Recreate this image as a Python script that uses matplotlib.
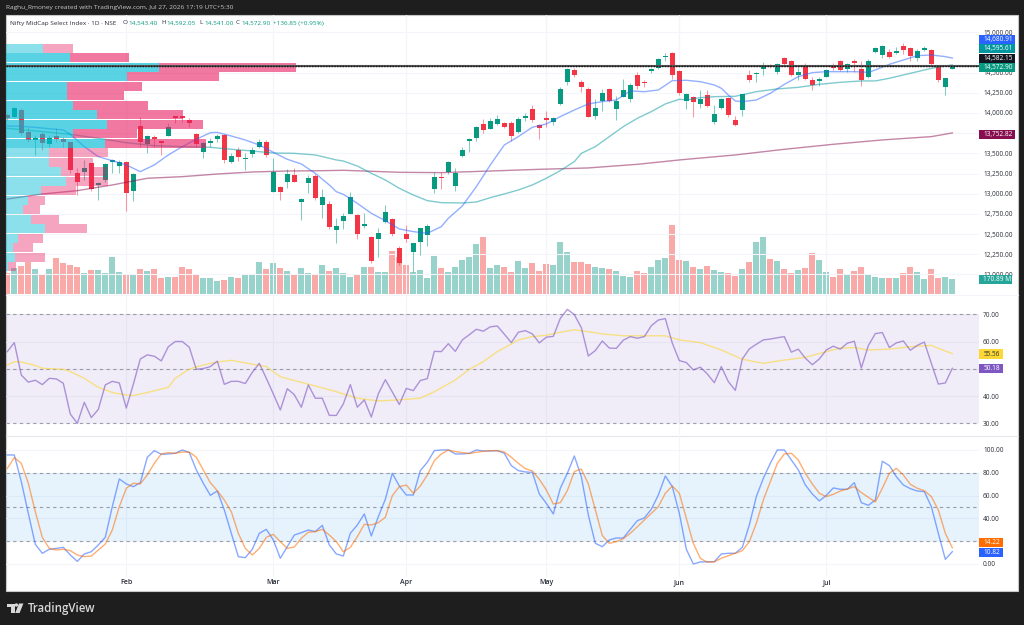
"""
Nifty MidCap Select daily chart (TradingView layout): candles, 20/50/200 MAs,
volume, visible-range volume profile, RSI and stochastic panes.
"""

import numpy as np
import matplotlib
matplotlib.use("Agg")
import matplotlib.pyplot as plt
from matplotlib.patches import Rectangle, Polygon, Circle

# ---------------------------------------------------------------------------
# Data
# ---------------------------------------------------------------------------
opens = [13975, 13955, 14037, 13760, 13665, 13740, 13616, 13715, 13674, 13636, 13257, 13273,
         13376, 13104, 13170, 13397, 13347, 13397, 13029, 13843, 13616, 13707, 13645, 13719,
         13955, 13963, 13913, 13740, 13521, 13632, 13674, 13727, 13393, 13546, 13426, 13488,
         13583, 13636, 13025, 13083, 13141, 13236, 12893, 13129, 13224, 12864, 12868, 12550,
         12666, 12749, 12736, 12604, 12468, 12439, 12650, 12687, 12327, 12497, 12278, 12402,
         12489, 13054, 13207, 13265, 13100, 13471, 13657, 13690, 13864, 13806, 13860, 13880,
         13872, 13765, 13942, 14046, 13851, 13934, 13889, 14116, 14384, 14533, 14384, 14293,
         13963, 14145, 14297, 14054, 14202, 14178, 14471, 14384, 14520, 14554, 14690, 14748,
         14525, 14149, 14202, 14112, 14219, 13884, 14058, 14190, 13909, 14041, 14467, 14479,
         14549, 14599, 14512, 14682, 14649, 14471, 14574, 14405, 14397, 14450, 14591, 14644,
         14545, 14632, 14541, 14442, 14756, 14715, 14760, 14739, 14830, 14810, 14686, 14776,
         14785, 14574, 14318, 14543.40]
highs = [13996, 14078, 14058, 13831, 13727, 13769, 13727, 13810, 13707, 13645, 13314, 13418,
         13380, 13149, 13376, 13426, 13418, 13409, 13252, 13955, 13727, 13727, 13653, 13872,
         13963, 13975, 13934, 13756, 13645, 13686, 13736, 13736, 13500, 13575, 13500, 13583,
         13674, 13665, 13438, 13095, 13302, 13314, 12943, 13232, 13244, 13054, 12910, 12695,
         12757, 13026, 12745, 12757, 12476, 12571, 12860, 12695, 12352, 12612, 12385, 12579,
         12621, 13273, 13273, 13405, 13315, 13583, 13686, 13839, 13926, 13934, 13975, 13889,
         13905, 13946, 14004, 14099, 13864, 14025, 13946, 14318, 14558, 14558, 14409, 14318,
         14170, 14293, 14310, 14211, 14417, 14368, 14512, 14405, 14558, 14682, 14748, 14756,
         14533, 14252, 14215, 14285, 14285, 14099, 14182, 14198, 13967, 14240, 14533, 14512,
         14628, 14607, 14620, 14694, 14657, 14574, 14620, 14442, 14446, 14545, 14615, 14657,
         14615, 14665, 14644, 14673, 14822, 14843, 14789, 14822, 14863, 14822, 14793, 14826,
         14789, 14586, 14430, 14592.05]
lows = [13913, 13934, 13727, 13645, 13480, 13542, 13583, 13645, 13583, 13252, 12984, 13170,
        13038, 12922, 13149, 13261, 13252, 12790, 12910, 13583, 13500, 13583, 13480, 13715,
        13872, 13893, 13822, 13583, 13438, 13583, 13645, 13385, 13376, 13409, 13294, 13451,
        13562, 13459, 13017, 12922, 13067, 13141, 12674, 13013, 12922, 12695, 12559, 12393,
        12563, 12745, 12435, 12571, 12138, 12220, 12641, 12480, 12117, 12398, 12034, 12241,
        12352, 13013, 13063, 13240, 13034, 13451, 13521, 13657, 13748, 13802, 13851, 13818,
        13653, 13756, 13905, 13893, 13678, 13823, 13856, 14103, 14351, 14450, 14264, 13946,
        13922, 14025, 14141, 13913, 14194, 14141, 14297, 14318, 14492, 14541, 14649, 14421,
        14223, 14050, 13955, 14066, 14079, 13868, 14050, 13950, 13835, 13967, 14388, 14388,
        14471, 14553, 14483, 14595, 14459, 14405, 14413, 14289, 14339, 14446, 14533, 14525,
        14512, 14512, 14330, 14438, 14748, 14677, 14677, 14731, 14727, 14648, 14644, 14764,
        14595, 14388, 14227, 14541.00]
closes = [13934, 14058, 13748, 13665, 13686, 13632, 13694, 13682, 13645, 13294, 13141, 13314,
          13054, 13129, 13368, 13414, 13389, 13005, 13244, 13636, 13715, 13682, 13632, 13822,
          13942, 13938, 13880, 13616, 13624, 13649, 13719, 13418, 13463, 13459, 13442, 13546,
          13645, 13475, 13273, 13017, 13248, 13149, 12930, 13195, 12943, 12955, 12592, 12600,
          12724, 12964, 12501, 12621, 12171, 12517, 12778, 12501, 12138, 12443, 12385, 12571,
          12604, 13207, 13191, 13393, 13261, 13542, 13674, 13827, 13790, 13905, 13926, 13831,
          13715, 13922, 13963, 13913, 13814, 13913, 13938, 14302, 14541, 14475, 14318, 13955,
          14062, 14252, 14149, 14153, 14285, 14351, 14339, 14368, 14541, 14665, 14706, 14467,
          14244, 14231, 14136, 14174, 14091, 13984, 14169, 13975, 13851, 14231, 14413, 14496,
          14570, 14574, 14611, 14611, 14471, 14508, 14421, 14351, 14421, 14529, 14553, 14533,
          14603, 14624, 14409, 14644, 14810, 14830, 14698, 14764, 14785, 14702, 14772, 14805,
          14611, 14413, 14436, 14572.90]

# volume in millions
volume = [247, 304, 323, 365, 293, 217, 293, 414, 357, 331, 315, 239, 277, 277, 247, 426, 251,
          217, 217, 293, 266, 293, 186, 201, 194, 312, 285, 232, 186, 182, 148, 163, 194, 186,
          232, 232, 365, 285, 361, 300, 262, 217, 296, 247, 232, 331, 270, 304, 243, 201, 220,
          312, 308, 251, 258, 490, 429, 334, 258, 277, 182, 437, 296, 258, 315, 391, 429, 574,
          650, 296, 334, 308, 255, 380, 304, 353, 266, 346, 334, 597, 479, 369, 369, 346, 315,
          300, 289, 262, 213, 201, 270, 247, 308, 391, 414, 790, 391, 380, 308, 289, 323, 281,
          258, 239, 213, 289, 365, 600, 657, 403, 380, 289, 239, 281, 300, 471, 391, 258, 194,
          289, 232, 262, 308, 224, 201, 182, 186, 186, 239, 308, 258, 175, 289, 182, 194, 170.89]

ma_fast_idx = [0, 2, 5, 8, 9, 11, 13, 15, 17, 19, 21, 23, 25, 27, 29, 30, 32, 34, 36, 38, 40, 42, 44,
               46, 47, 48, 50, 52, 54, 56, 58, 60, 62, 63, 65, 67, 69, 71, 73, 75, 77, 79, 81, 83,
               85, 87, 89, 91, 93, 95, 97, 99, 101, 102, 103, 104, 105, 107, 109, 111, 113, 115,
               117, 119, 121, 123, 124, 126, 128, 130, 132, 134, 135]
ma_fast = [13839, 13835, 13814, 13789, 13736, 13583, 13459, 13409, 13356, 13273, 13356, 13480,
           13583, 13674, 13756, 13760, 13715, 13665, 13603, 13513, 13426, 13368, 13252, 13108,
           13025, 12992, 12881, 12757, 12666, 12563, 12530, 12509, 12592, 12695, 12848, 13087,
           13356, 13604, 13707, 13823, 13864, 13955, 14037, 14112, 14141, 14161, 14273, 14264,
           14285, 14401, 14405, 14388, 14347, 14306, 14223, 14149, 14141, 14161, 14244, 14355,
           14450, 14500, 14512, 14512, 14512, 14504, 14533, 14603, 14657, 14710, 14719, 14698,
           14680.91]
ma_mid_idx = [0, 5, 9, 13, 17, 21, 25, 29, 32, 35, 38, 41, 44, 47, 48, 50, 52, 54, 56, 58, 60, 62,
              65, 67, 69, 71, 73, 75, 77, 79, 81, 82, 84, 86, 88, 90, 92, 94, 96, 97, 99, 101, 104,
              107, 110, 113, 116, 119, 122, 124, 126, 128, 130, 132, 134, 135]
ma_mid = [13810, 13769, 13736, 13686, 13632, 13595, 13583, 13575, 13550, 13529, 13504, 13500,
          13480, 13418, 13405, 13343, 13253, 13170, 13067, 12984, 12914, 12889, 12885, 12897,
          12951, 12997, 13046, 13108, 13191, 13286, 13397, 13500, 13583, 13707, 13831, 13934,
          14017, 14112, 14170, 14161, 14190, 14202, 14207, 14264, 14298, 14318, 14355, 14380,
          14397, 14397, 14430, 14471, 14512, 14553, 14582, 14595.61]
ma_long_idx = [0, 5, 10, 15, 20, 25, 30, 35, 40, 45, 48, 56, 62, 69, 76, 83, 90, 96, 97, 104, 111,
               118, 125, 132, 135]
ma_long = [12934, 12996, 13038, 13108, 13191, 13211, 13244, 13269, 13281, 13285, 13290, 13265,
           13261, 13281, 13302, 13319, 13364, 13418, 13426, 13480, 13550, 13612, 13666, 13707,
           13752.82]

# volume profile, 24 rows from the top of the visible range down
profile_up = [37.3, 64, 153.3, 121.3, 61.3, 61.3, 67.3, 91, 101.3, 67.3, 99, 43,
              42.7, 55.3, 59.7, 34.7, 22.3, 16.7, 25, 39.3, 12.3, 6.7, 9, 1.7]
profile_down = [29.3, 59.3, 136.7, 92, 75, 57, 75, 86.3, 96, 64, 101, 59.3,
                44, 46, 42, 35.3, 16.3, 17.3, 28, 42, 25, 20, 29.7, 8]
value_area_rows = (1, 10)
poc_price = 14582.15

rsi = [56.3, 59.6, 47.7, 45.1, 45.8, 44.2, 46.5, 46.3, 44.7, 33.4, 30.0, 37.7, 32.1, 35.1, 44.1,
       45.4, 44.8, 35.6, 44.3, 53.6, 55.1, 54.6, 52.9, 58.1, 60, 60, 57.9, 49.8, 50.1, 50.8, 52.8,
       44.3, 45.4, 45.4, 44.6, 48.7, 52, 46.5, 40.8, 34.9, 42.7, 40.5, 35.9, 44.1, 39.2, 39.2,
       32.9, 32.9, 37.1, 44.2, 35.9, 38.6, 32.3, 40.8, 46, 41.5, 36.9, 42.8, 42, 45.7, 46.4, 56.4,
       56.3, 59.2, 56.4, 60.6, 62.5, 64.5, 63.8, 65.4, 65.7, 62.7, 59.6, 63.4, 64, 62.8, 59.5,
       61.6, 61.9, 68.5, 71.8, 69.9, 65.1, 54.7, 56.7, 60.2, 57.6, 57.5, 60.5, 61.8, 61.2, 61.8,
       65.8, 67.9, 68.4, 59.4, 53, 52.3, 49.6, 50.6, 48.1, 44.9, 50.8, 45.3, 42.1, 53.6, 57.3, 59,
       60.6, 60.9, 61.4, 61.8, 56.1, 57.2, 53.9, 51.5, 53.6, 56.9, 58.3, 57.2, 59.4, 60.1, 50.3,
       58.5, 62.9, 63.3, 57.8, 59.5, 60.2, 56.8, 58.6, 59.8, 52, 44.4, 44.8, 50.18]
rsi_ma_idx = [0, 1, 2, 4, 5, 8, 9, 11, 13, 15, 17, 18, 20, 23, 24, 26, 28, 30, 32, 35, 37, 39, 41,
              44, 47, 50, 53, 56, 59, 61, 64, 66, 68, 70, 72, 73, 75, 77, 79, 81, 83, 85, 88, 91,
              94, 96, 99, 102, 105, 108, 111, 114, 117, 119, 121, 123, 126, 129, 132, 133, 135]
rsi_ma = [51.4, 52.6, 52.5, 51.2, 50.2, 49.8, 49, 46.5, 43.2, 41.3, 40.4, 40.2, 41.3, 43.2, 46.5,
          49.9, 51.4, 52.5, 53.1, 51.7, 50.8, 47.1, 45.7, 43.7, 41.6, 39.2, 38.2, 38.6, 39.2, 41.6,
          45.9, 49.8, 52.6, 56.3, 59.1, 60.6, 61.8, 62.3, 63.4, 64.3, 63.6, 62.8, 62.1, 62.1, 62.1,
          60.6, 59.6, 56.9, 53.5, 52, 53.2, 54.2, 56.3, 57.6, 57.8, 56.9, 57.2, 58.1, 58.6, 57.5,
          55.56]

stoch_k = [95.6, 95.6, 72.2, 44.4, 17.3, 9.4, 12.9, 13.7, 14.6, 7.9, 2.3, 8.8, 10.8, 16.7, 23.4,
           50.3, 74.6, 70.2, 67.8, 71.3, 93.6, 99.4, 96.2, 96.5, 97.1, 100, 97.7, 82.5, 70.8, 60.2,
           64, 47.4, 26.9, 6.4, 5.6, 12.9, 26.9, 30.4, 21.1, 5, 15.2, 25.4, 27.5, 29.8, 28.4, 33.9,
           16.7, 8.8, 7, 26.9, 34.2, 43.9, 24.6, 41.5, 56.7, 79.5, 68.4, 60.5, 60.5, 81.9, 89.2,
           99.4, 100, 100, 96.5, 96.5, 97.1, 100, 99.1, 99.1, 99.4, 97.1, 86.3, 81.9, 80.7, 80.4,
           61.4, 53.2, 43.9, 66.4, 79.5, 94.7, 76.6, 43, 18.1, 15.2, 21.1, 22.8, 22.8, 30.4, 38,
           40.4, 48, 60.5, 77.2, 67.8, 44.4, 12.9, 0, 1.8, 2, 2, 8.8, 9.4, 9.4, 14.6, 34.2, 59.1,
           75.1, 88.3, 100, 100, 91.2, 82.5, 69.3, 61.4, 55.3, 60.2, 66.7, 65.5, 65.5, 71.3, 53.8,
           51.5, 56.1, 90.1, 86.3, 76.6, 69.3, 66.1, 64, 63.5, 50.3, 26.9, 4.1, 10.82]
stoch_d = [83.9, 93.3, 88.3, 70.8, 45.9, 23.4, 13.7, 12.3, 12.9, 11.7, 7.9, 6.4, 7, 12.3, 17.5,
           29.8, 50.3, 66.4, 70.8, 70.2, 78.1, 88.3, 96.5, 97.7, 97.1, 98.2, 98.2, 93.6, 82.5, 71.3,
           64.3, 56.1, 45.9, 26.9, 13.7, 7.9, 13.7, 23.4, 26, 19.6, 13.7, 14.9, 22.5, 27.8, 28.4,
           30.4, 25.4, 19.6, 10.8, 14.6, 24, 34.8, 34.2, 36.3, 40.9, 59.9, 67.8, 69.3, 62, 68.4,
           78.1, 90.6, 96.5, 100, 98.5, 97.7, 96.8, 98, 98.8, 99.4, 99.4, 98.2, 93.6, 88.3, 83.6,
           81.6, 74.3, 64.9, 52.6, 53.8, 64.3, 81, 83.3, 70.2, 47.4, 24.9, 18.1, 19.6, 22.2, 26.9,
           32.7, 38.6, 44.4, 50.3, 62, 68.4, 62, 40.1, 18.1, 5, 1.5, 2, 5, 7.3, 9.4, 11.7, 19.6,
           35.7, 56.1, 72.2, 88.3, 96.5, 97.1, 91.2, 79.5, 70.2, 62, 59.1, 61.1, 64, 65.8, 67.8,
           62.6, 58.5, 54.4, 66.4, 79.5, 83.9, 78.1, 69.9, 66.4, 64.3, 59.1, 47.4, 26.9, 14.22]

month_idx = [17, 38, 57, 77, 96, 117]
month_labels = ["Feb", "Mar", "Apr", "May", "Jun", "Jul"]
price_ticks = [12000, 12250, 12500, 12750, 13000, 13250, 13500, 13750, 14000, 14250, 14500, 15000]
rsi_ticks = [30, 40, 50, 60, 70]
stoch_ticks = [0, 20, 40, 60, 80, 100]

# ---------------------------------------------------------------------------
# Layout and colours
# ---------------------------------------------------------------------------
W, H = 1024, 625
UP, DOWN = "#089981", "#f23645"
GRID = "#f3f5fa"
TXT = "#2a2e39"
AXIS_FS = 4.7
HEAD_FS = 4.6
plt.rcParams["font.family"] = ["Open Sans", "DejaVu Sans"]

opens, highs, lows, closes = map(np.array, (opens, highs, lows, closes))
volume = np.array(volume, dtype=float)
x = np.arange(len(closes))
rising = closes >= opens

fig = plt.figure(figsize=(W / 100, H / 100), dpi=100, facecolor="#1e1e1e")


def pane(top, bottom, left=6, right=979, zorder=1):
    return fig.add_axes([left / W, 1 - bottom / H, (right - left) / W, (bottom - top) / H],
                        zorder=zorder)


# white sheet behind the panes
bg = fig.add_axes([0, 0, 1, 1], zorder=0)
bg.set_xlim(0, W)
bg.set_ylim(H, 0)
bg.axis("off")
bg.add_patch(Rectangle((6, 15), 1012, 575.5, fc="white", ec="#c8c8c8", lw=0.8))

ax_vol = pane(15, 294.5, zorder=1)
ax = pane(15, 294.5, zorder=2)
ax_vp = pane(15, 294.5, zorder=3)
ax_rsi = pane(294.5, 435.7, zorder=2)
ax_st = pane(435.7, 577, zorder=2)

xlim = (-0.186, 138.81)
for a in (ax_vol, ax, ax_vp, ax_rsi, ax_st):
    a.set_xlim(*xlim)
    a.patch.set_alpha(0)
    for s in a.spines.values():
        s.set_visible(False)
    a.set_xticks(month_idx)
    a.tick_params(length=0, labelbottom=False)
    a.xaxis.grid(a not in (ax_vol, ax_vp), color=GRID, lw=0.8)
    a.set_axisbelow(True)
    a.yaxis.tick_right()
    a.tick_params(axis="y", labelsize=AXIS_FS, labelcolor=TXT, pad=2.9)

# ---------------------------------------------------------------------------
# Price pane
# ---------------------------------------------------------------------------
ax.set_ylim(11751, 15214)
ax.set_yticks(price_ticks)
ax.set_yticklabels([f"{p:,.2f}" for p in price_ticks])
ax.yaxis.grid(True, color=GRID, lw=0.8)

colors = np.where(rising, UP, DOWN)
ax.vlines(x, lows, highs, colors=colors, lw=0.75, alpha=0.5, zorder=3)
body = np.abs(closes - opens)
ax.bar(x, np.maximum(body, 18), width=0.7, bottom=np.minimum(opens, closes),
       color=colors, zorder=4)

ax.plot(ma_long_idx, ma_long, color="#880e4f", lw=1.0, alpha=0.5, zorder=5)
ax.plot(ma_mid_idx, ma_mid, color="#00979f", lw=1.0, alpha=0.5, zorder=5)
ax.plot(ma_fast_idx, ma_fast, color="#2962ff", lw=1.0, alpha=0.5, zorder=5)

ax_vol.set_ylim(-2, 3184)
ax_vol.set_yticks([])
ax_vol.bar(x, volume, width=0.88, color=np.where(rising, "#97d3cb", "#f9a9a7"))

# volume profile sits above the candles
ax_vp.set_ylim(*ax.get_ylim())
ax_vp.set_yticks([])
ax_vp.set_xticks([])
profile_up = np.array(profile_up)
profile_down = np.array(profile_down)
rows = np.arange(len(profile_up))
poc = np.argmax(profile_up + profile_down)
ax_vp.set_xlim(0, (profile_up[poc] + profile_down[poc]) / 0.298)
step = (highs.max() - lows.min()) / len(rows)
centers = highs.max() - (rows + 0.5) * step
in_area = (rows >= value_area_rows[0]) & (rows <= value_area_rows[1])
for y, up, dn, dark in zip(centers, profile_up, profile_down, in_area):
    ax_vp.barh(y, up, height=step * 0.93, color="#00bcd4", alpha=0.65 if dark else 0.45, lw=0)
    ax_vp.barh(y, dn, left=up, height=step * 0.93, color="#e91e63", alpha=0.6 if dark else 0.4, lw=0)

# the POC line runs across the whole pane, above the profile
ax_vp.axhline(poc_price, color="#555555", lw=1.5, zorder=6)
ax_vp.axhline(poc_price, color="#111111", lw=1.0, ls=(0, (1, 1)), zorder=6)

# ---------------------------------------------------------------------------
# RSI pane
# ---------------------------------------------------------------------------
ax_rsi.set_ylim(25.46, 77.25)
ax_rsi.set_yticks(rsi_ticks)
ax_rsi.set_yticklabels([f"{v:.2f}" for v in rsi_ticks])
ax_rsi.yaxis.grid(True, color=GRID, lw=0.8)
ax_rsi.axhspan(30, 70, color="#7e57c2", alpha=0.11, lw=0, zorder=1)
for level in (70, 50, 30):
    ax_rsi.axhline(level, color="#787b86", lw=0.8, ls=(0, (3, 3)), alpha=0.7, zorder=2)
ax_rsi.plot(rsi_ma_idx, rsi_ma, color="#fdd835", lw=1.0, alpha=0.6, zorder=3)
ax_rsi.plot(x, rsi, color="#7e57c2", lw=1.0, alpha=0.6, zorder=4)

# ---------------------------------------------------------------------------
# Stochastic pane
# ---------------------------------------------------------------------------
ax_st.set_ylim(-11.4, 112.5)
ax_st.set_yticks(stoch_ticks)
ax_st.set_yticklabels([f"{v:.2f}" for v in stoch_ticks])
ax_st.yaxis.grid(True, color=GRID, lw=0.8)
ax_st.axhspan(20, 80, color="#2196f3", alpha=0.11, lw=0, zorder=1)
for level in (80, 50, 20):
    ax_st.axhline(level, color="#787b86", lw=0.8, ls=(0, (3, 3)), alpha=0.7, zorder=2)
ax_st.plot(x, stoch_k, color="#2962ff", lw=1.0, alpha=0.55, zorder=3)
ax_st.plot(x, stoch_d, color="#ff6d00", lw=1.0, alpha=0.55, zorder=4)
ax_st.tick_params(axis="x", labelbottom=True, labelsize=5.0, labelcolor=TXT, pad=1.8)
ax_st.set_xticklabels(month_labels, fontweight="semibold")

# pane dividers
bg.plot([6, 1018], [294.5, 294.5], color=GRID, lw=0.8)
bg.plot([6, 1018], [435.7, 435.7], color="#e4e6ec", lw=0.8)

# ---------------------------------------------------------------------------
# Header, price tags and logo, drawn in pixel space on top of everything
# ---------------------------------------------------------------------------
ov = fig.add_axes([0, 0, 1, 1], zorder=10)
ov.set_xlim(0, W)
ov.set_ylim(H, 0)
ov.axis("off")
ov.patch.set_alpha(0)

ov.text(6, 8, "Raghu_Rmoney created with TradingView.com, Jul 27, 2026 17:19 UTC+5:30",
        color="#c9c9c9", fontsize=4.65, va="center")
ov.text(10, 23, "Nifty MidCap Select Index · 1D · NSE", color=TXT, fontsize=HEAD_FS, va="center")
for px, head, val in [(123, "O", "14,543.40"), (161, "H", "14,592.05"),
                      (199, "L", "14,541.00"), (236, "C", "14,572.90")]:
    ov.text(px, 23, head, color=TXT, fontsize=HEAD_FS, va="center")
    ov.text(px + 5, 23, val, color=UP, fontsize=HEAD_FS, va="center")
ov.text(273, 23, "+136.85 (+0.95%)", color=UP, fontsize=HEAD_FS, va="center")


def tag(label, top, bottom, color, right=1015, text_color="white"):
    ov.add_patch(Rectangle((979, top), right - 979, bottom - top, fc=color, lw=0, zorder=3))
    ov.text(983.3, (top + bottom) / 2 + 0.1, label, color=text_color, fontsize=AXIS_FS, va="center", zorder=4)


tag("14,680.91", 35, 43.6, "#2962ff")
tag("14,595.61", 44, 52.6, "#00979f")
tag("14,582.15", 53.6, 62.6, "#131722")
tag("14,572.90", 63.4, 72.4, UP)
tag("13,752.82", 129.7, 139, "#880e4f")
tag("170.89 M", 275, 284, "#26a69a", right=1012)
tag("55.56", 349, 359, "#fdd835", right=1003, text_color=TXT)
tag("50.18", 364, 373, "#7e57c2", right=1003)
tag("14.22", 538, 547.4, "#ff6d00", right=1003)
tag("10.82", 547.7, 557, "#2962ff", right=1003)

# TradingView mark
logo = "#d8d8d8"
ov.add_patch(Polygon([(7, 603.5), (14.5, 603.5), (14.5, 613), (10.8, 613), (10.8, 606.6), (7, 606.6)],
                     fc=logo, lw=0))
ov.add_patch(Circle((16.4, 605), 1.7, fc=logo, lw=0))
ov.add_patch(Polygon([(19, 603.5), (23.4, 603.5), (19.6, 613), (15.2, 613)], fc=logo, lw=0))
ov.text(27.5, 608.5, "TradingView", color=logo, fontsize=8.3, fontweight="semibold", va="center")

fig.savefig("out.png", dpi=100, facecolor=fig.get_facecolor())
